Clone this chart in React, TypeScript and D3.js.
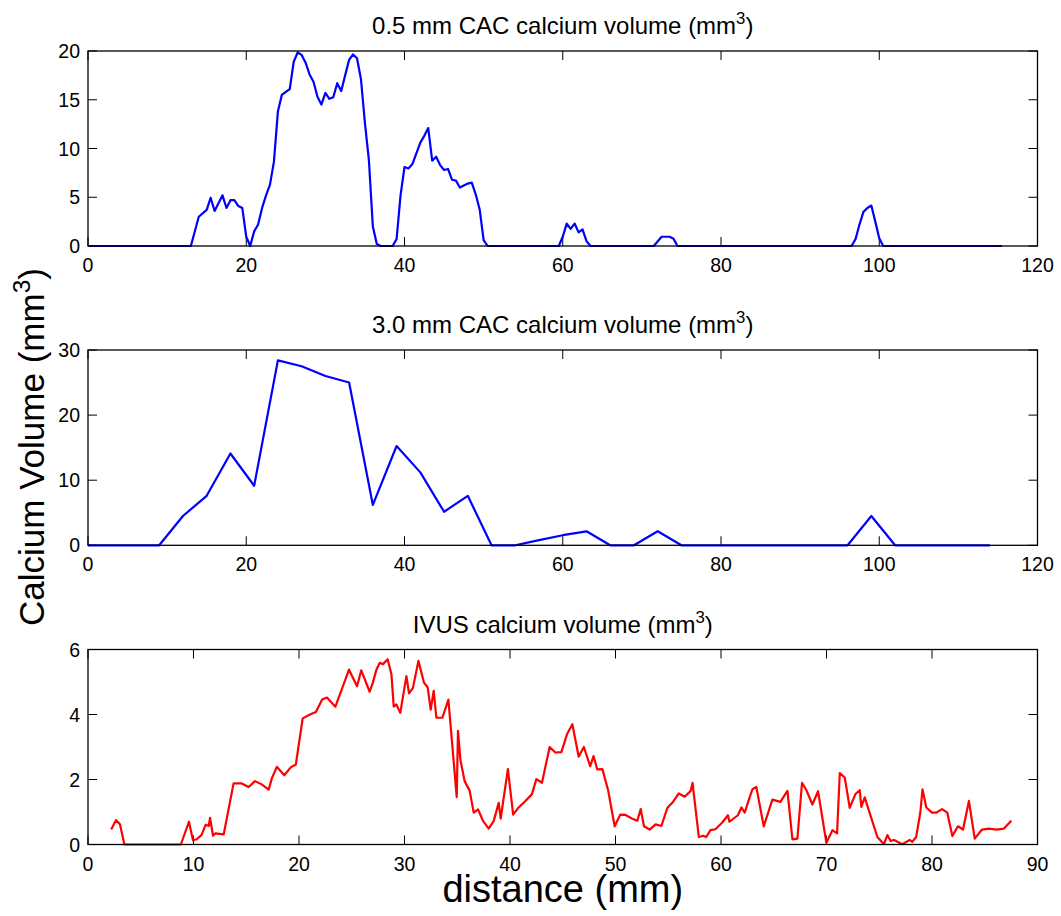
import React from "react";
import * as d3 from "d3";

// ---------- data ----------
// 0.5 mm CAC calcium volume: [distance (mm), volume (mm^3)]
const cac05: [number, number][] = [
  [0, 0], [13, 0], [14, 3.0], [15, 3.7], [15.5, 4.95], [16, 3.6], [17, 5.2], [17.5, 3.9],
  [18, 4.7], [18.5, 4.7], [19, 4.1], [19.5, 3.9], [20, 0.95], [20.5, 0], [21, 1.5],
  [21.5, 2.2], [22, 3.9], [22.5, 5.2], [23, 6.3], [23.5, 8.65], [24, 13.8], [24.5, 15.5],
  [25, 15.8], [25.5, 16.1], [26, 18.9], [26.5, 19.85], [27, 19.6], [27.5, 18.8], [28, 17.6],
  [28.5, 16.85], [29, 15.3], [29.5, 14.5], [30, 15.7], [30.5, 15.1], [31, 15.25], [31.5, 16.7],
  [32, 15.9], [32.5, 17.5], [33, 19.1], [33.5, 19.65], [34, 19.25], [34.5, 17.1], [35, 12.6],
  [35.5, 8.8], [36, 2.0], [36.5, 0.2], [37, 0], [38.5, 0], [39, 0.7], [39.5, 5.2], [40, 8.1],
  [40.5, 7.95], [41, 8.4], [41.5, 9.5], [42, 10.6], [42.5, 11.3], [43, 12.1], [43.5, 8.75],
  [44, 9.15], [44.5, 8.3], [45, 7.8], [45.5, 7.9], [46, 6.8], [46.5, 6.7], [47, 6.0],
  [47.5, 6.2], [48, 6.4], [48.5, 6.5], [49, 5.3], [49.5, 3.75], [50, 0.6], [50.5, 0],
  [59.5, 0], [60, 0.95], [60.5, 2.3], [61, 1.75], [61.5, 2.3], [62, 1.4], [62.5, 1.7],
  [63, 0.5], [63.5, 0], [71.5, 0], [72.5, 0.95], [73, 0.95], [73.5, 0.95], [74, 0.75],
  [74.5, 0], [96.5, 0], [97, 0.7], [97.5, 2.2], [98, 3.5], [98.5, 3.9], [99, 4.15],
  [99.5, 2.5], [100, 0.8], [100.5, 0], [115.5, 0],
];

// 3.0 mm CAC calcium volume
const cac30X: number[] = [
  0, 3, 6, 9, 12, 15, 18, 21, 24, 27, 30, 33, 36, 39, 42, 45, 48, 51, 54, 57,
  60, 63, 66, 69, 72, 75, 78, 81, 84, 87, 90, 93, 96, 99, 102, 105, 108, 111, 114,
];
const cac30Y: number[] = [
  0, 0, 0, 0, 4.5, 7.6, 14.1, 9.15, 28.4, 27.5, 26.0, 25.0, 6.2, 15.25, 11.2, 5.15, 7.6, 0, 0, 0.8,
  1.55, 2.15, 0, 0, 2.15, 0, 0, 0, 0, 0, 0, 0, 0, 4.5, 0, 0, 0, 0, 0,
];

// IVUS calcium volume: [distance (mm), volume (mm^3)]
const ivus: [number, number][] = [
  [2.2, 0.46], [2.65, 0.75], [3.03, 0.62], [3.45, 0], [8.8, 0], [9.57, 0.7], [9.95, 0.13],
  [10.3, 0.16], [10.75, 0.29], [11.16, 0.61], [11.44, 0.57], [11.57, 0.82], [11.85, 0.27],
  [12.07, 0.34], [12.86, 0.31], [13.8, 1.88], [14.57, 1.88], [15.23, 1.77], [15.83, 1.95],
  [16.46, 1.85], [17.13, 1.69], [17.44, 2.05], [17.9, 2.39], [18.6, 2.13], [19.24, 2.38],
  [19.7, 2.46], [20.35, 3.88], [21.04, 4.0], [21.6, 4.08], [22.2, 4.46], [22.65, 4.52],
  [23.45, 4.24], [24.74, 5.38], [25.5, 4.87], [25.9, 5.36], [26.7, 4.7], [27.0, 4.98],
  [27.34, 5.38], [27.65, 5.59], [27.96, 5.55], [28.4, 5.7], [28.76, 5.24], [28.98, 4.24],
  [29.23, 4.31], [29.6, 4.05], [30.18, 5.18], [30.43, 4.65], [30.8, 4.82], [31.32, 5.65],
  [31.85, 4.98], [32.2, 4.83], [32.48, 4.15], [32.77, 4.73], [33.02, 3.9], [33.59, 3.9],
  [34.16, 4.46], [34.95, 1.46], [35.07, 3.5], [35.3, 2.6], [35.7, 1.95], [36.18, 1.65],
  [36.56, 0.98], [36.97, 1.08], [37.44, 0.73], [37.98, 0.49], [38.45, 0.72], [38.93, 1.28],
  [39.12, 0.8], [39.8, 2.32], [40.3, 0.92], [40.82, 1.14], [41.46, 1.34], [42.08, 1.55],
  [42.5, 2.01], [43.03, 1.9], [43.76, 3.0], [44.3, 2.83], [44.87, 2.84], [45.4, 3.39],
  [45.91, 3.7], [46.51, 2.7], [47.0, 3.0], [47.6, 2.41], [47.92, 2.72], [48.27, 2.31],
  [48.76, 2.32], [49.3, 1.67], [49.92, 0.56], [50.45, 0.92], [50.95, 0.91], [51.55, 0.8],
  [52.07, 0.73], [52.39, 1.09], [52.7, 0.56], [53.24, 0.46], [53.8, 0.62], [54.35, 0.57],
  [54.92, 1.13], [55.45, 1.31], [56.0, 1.57], [56.56, 1.47], [57.13, 1.65], [57.3, 1.9],
  [57.9, 0.23], [58.3, 0.27], [58.6, 0.23], [59.0, 0.44], [59.47, 0.47], [60.1, 0.67],
  [60.66, 0.9], [60.8, 0.7], [61.6, 0.9], [61.93, 1.14], [62.25, 0.98], [62.65, 1.39],
  [62.98, 1.7], [63.35, 1.77], [64.05, 0.56], [64.87, 1.38], [65.63, 1.31], [66.3, 1.65],
  [66.77, 0.16], [67.24, 0.18], [67.68, 1.9], [68.1, 1.67], [68.66, 1.23], [69.2, 1.64],
  [69.99, 0.05], [70.56, 0.44], [71.0, 0.34], [71.26, 2.2], [71.73, 2.06], [72.2, 1.13],
  [72.74, 1.55], [73.15, 1.67], [73.3, 1.16], [73.62, 1.45], [74.82, 0.23], [75.45, 0.01],
  [75.77, 0.29], [76.08, 0.11], [76.4, 0.14], [77.19, 0.01], [77.88, 0.14], [78.13, 0.08],
  [78.5, 0.23], [78.9, 1.0], [79.1, 1.7], [79.46, 1.14], [80.0, 0.98], [80.41, 0.98],
  [80.95, 1.09], [81.45, 0.98], [81.93, 0.26], [82.46, 0.56], [82.94, 0.46], [83.5, 1.34],
  [84.05, 0.18], [84.74, 0.46], [85.4, 0.49], [86.1, 0.46], [86.82, 0.49], [87.52, 0.73],
];

const xTicksCAC = [0, 20, 40, 60, 80, 100, 120];
const xTicksIVUS = [0, 10, 20, 30, 40, 50, 60, 70, 80, 90];
const yTicks05 = [0, 5, 10, 15, 20];
const yTicks30 = [0, 10, 20, 30];
const yTicksIVUS = [0, 2, 4, 6];

const titles = ["0.5 mm CAC calcium volume (mm", "3.0 mm CAC calcium volume (mm", "IVUS calcium volume (mm"];
const yLabel = "Calcium Volume (mm";
const xLabel = "distance (mm)";

// ---------- layout ----------
const W = 1061;
const H = 916;
const LEFT = 88;
const RIGHT = 1037.5;
const FONT = "'Liberation Sans', Arial, Helvetica, sans-serif";
const TICK_FS = 19.5;
const TITLE_FS = 24;
const YLABEL_FS = 35;
const XLABEL_FS = 38;
const TICK_LEN = 9;

type PanelProps = {
  top: number;
  bottom: number;
  xDomain: [number, number];
  yDomain: [number, number];
  xTicks: number[];
  yTicks: number[];
  data: [number, number][];
  color: string;
  title: string;
};

function Panel({ top, bottom, xDomain, yDomain, xTicks, yTicks, data, color, title }: PanelProps) {
  const x = d3.scaleLinear().domain(xDomain).range([LEFT, RIGHT]);
  const y = d3.scaleLinear().domain(yDomain).range([bottom, top]);
  const line = d3
    .line<[number, number]>()
    .x((d) => x(d[0]))
    .y((d) => y(d[1]));
  const cx = (LEFT + RIGHT) / 2;
  return (
    <g>
      <text x={cx} y={top - 17} textAnchor="middle" fontFamily={FONT} fontSize={TITLE_FS} fill="#000">
        {title}
        <tspan dy={-10} fontSize={TITLE_FS * 0.7}>3</tspan>
        <tspan dy={10}>)</tspan>
      </text>
      {xTicks.map((t) => (
        <g key={"x" + t}>
          <line x1={x(t)} x2={x(t)} y1={bottom} y2={bottom - TICK_LEN} stroke="#000" strokeWidth={1} />
          <line x1={x(t)} x2={x(t)} y1={top} y2={top + TICK_LEN} stroke="#000" strokeWidth={1} />
          <text x={x(t)} y={bottom + 26} textAnchor="middle" fontFamily={FONT} fontSize={TICK_FS} fill="#000">
            {t}
          </text>
        </g>
      ))}
      {yTicks.map((t) => (
        <g key={"y" + t}>
          <line x1={LEFT} x2={LEFT + TICK_LEN} y1={y(t)} y2={y(t)} stroke="#000" strokeWidth={1} />
          <line x1={RIGHT} x2={RIGHT - TICK_LEN} y1={y(t)} y2={y(t)} stroke="#000" strokeWidth={1} />
          <text x={LEFT - 8} y={y(t) + 7} textAnchor="end" fontFamily={FONT} fontSize={TICK_FS} fill="#000">
            {t}
          </text>
        </g>
      ))}
      <path d={line(data) || ""} fill="none" stroke={color} strokeWidth={2.2} strokeLinejoin="round" />
      <rect x={LEFT} y={top} width={RIGHT - LEFT} height={bottom - top} fill="none" stroke="#000" strokeWidth={1.3} />
    </g>
  );
}

export default function App() {
  const cac30: [number, number][] = cac30X.map((v, i) => [v, cac30Y[i]]);
  return (
    <svg
      width={W}
      height={H}
      viewBox={`0 0 ${W} ${H}`}
      style={{ position: "absolute", left: 0, top: 0, background: "#fff" }}
    >
      <rect x={0} y={0} width={W} height={H} fill="#fff" />
      <Panel top={51} bottom={246} xDomain={[0, 120]} yDomain={[0, 20]} xTicks={xTicksCAC} yTicks={yTicks05} data={cac05} color="#0000ff" title={titles[0]} />
      <Panel top={350} bottom={545.3} xDomain={[0, 120]} yDomain={[0, 30]} xTicks={xTicksCAC} yTicks={yTicks30} data={cac30} color="#0000ff" title={titles[1]} />
      <Panel top={649.5} bottom={844.5} xDomain={[0, 90]} yDomain={[0, 6]} xTicks={xTicksIVUS} yTicks={yTicksIVUS} data={ivus} color="#ff0000" title={titles[2]} />
      <text transform={`translate(44,447) rotate(-90)`} textAnchor="middle" fontFamily={FONT} fontSize={YLABEL_FS} fill="#000">
        {yLabel}
        <tspan dy={-14} fontSize={YLABEL_FS * 0.7}>3</tspan>
        <tspan dy={14}>)</tspan>
      </text>
      <text x={(LEFT + RIGHT) / 2} y={902} textAnchor="middle" fontFamily={FONT} fontSize={XLABEL_FS} fill="#000">
        {xLabel}
      </text>
    </svg>
  );
}
